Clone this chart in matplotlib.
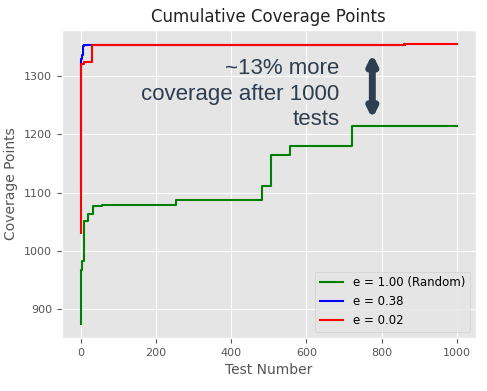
import matplotlib
matplotlib.use('Agg')
import matplotlib.pyplot as plt

plt.style.use('ggplot')

# step points (test number, cumulative coverage)
rand_x = [0, 1, 3, 10, 10, 20, 33, 57, 254, 478, 483, 505, 557, 722, 1000]
rand_y = [875, 968, 982, 982, 1051, 1063, 1077, 1079, 1087, 1087, 1111, 1165, 1180, 1215, 1215]

mid_x = [0, 1, 2, 4, 6, 10, 20, 862]
mid_y = [1105, 1320, 1329, 1337, 1351, 1353, 1353, 1353]

low_x = [0, 1, 2, 5, 10, 29, 60, 860, 1000]
low_y = [1031, 1300, 1320, 1320, 1324, 1353, 1353, 1355, 1355]

fig, ax = plt.subplots(figsize=(4.87, 3.91), dpi=100)
fig.subplots_adjust(left=0.127, right=0.977, top=0.923, bottom=0.136)

ax.step(rand_x, rand_y, where='post', color='green', label='e = 1.00 (Random)')
ax.step(mid_x, mid_y, where='post', color='blue', label='e = 0.38')
ax.step(low_x, low_y, where='post', color='red', label='e = 0.02')

# annotation
ax.text(688, 1331, '~13% more\ncoverage after 1000\ntests', ha='right', va='top',
        fontsize=16, color='#2c3e50', family='Liberation Sans', linespacing=1.28)
ax.annotate('', xy=(775, 1338), xytext=(775, 1227),
            arrowprops=dict(arrowstyle='<|-|>', color='#2c3e50', lw=5, mutation_scale=13,
                            shrinkA=0, shrinkB=0))

ax.set_title('Cumulative Coverage Points', fontsize=12, color='#222222')
ax.set_xlabel('Test Number', fontsize=10)
ax.set_ylabel('Coverage Points', fontsize=10)
ax.tick_params(labelsize=8)
ax.legend(loc='lower right', fontsize=8.5)

plt.savefig('out.png')
